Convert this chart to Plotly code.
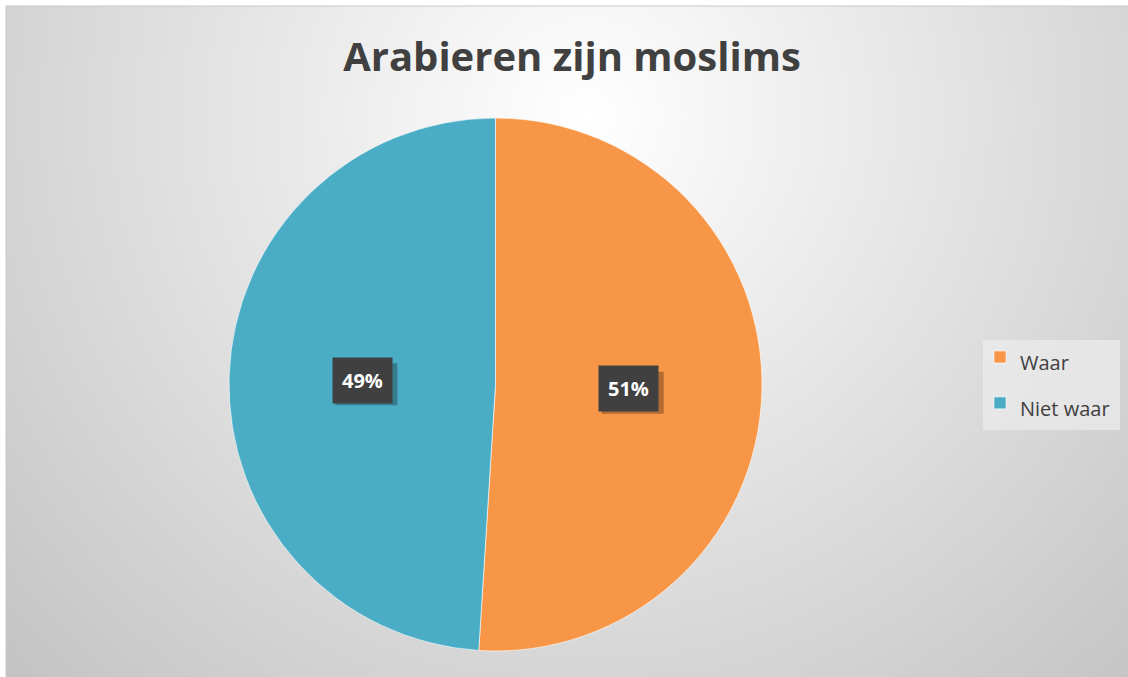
import math
import urllib.parse
import plotly.graph_objects as go

W, H = 1128, 677

title_text = "Arabieren zijn moslims"
labels = ["Waar", "Niet waar"]
values = [51, 49]
colors = ["#F79646", "#4BACC6"]

# pie domain in paper coords
dom_x = [229 / W, 762 / W]
dom_y = [(H - 651) / H, (H - 118) / H]

svg = (
    "<svg xmlns='http://www.w3.org/2000/svg' width='1122' height='671' viewBox='0 0 1122 671' preserveAspectRatio='none'>"
    "<defs><radialGradient id='g' cx='580' cy='110' r='900' gradientUnits='userSpaceOnUse'>"
    "<stop offset='0' stop-color='#ffffff'/><stop offset='1' stop-color='#bcbcbc'/>"
    "</radialGradient></defs>"
    "<rect width='1122' height='671' fill='url(#g)'/></svg>"
)
svg_uri = "data:image/svg+xml;charset=utf-8," + urllib.parse.quote(svg)

fig = go.Figure()
fig.add_trace(go.Pie(
    labels=["<span style='font-size:20px'>%s</span>" % l for l in labels],
    values=values,
    marker=dict(colors=colors, line=dict(color="rgba(255,255,255,0.6)", width=1)),
    sort=False,
    direction="clockwise",
    rotation=0,
    textinfo="none",
    hoverinfo="skip",
    domain=dict(x=dom_x, y=dom_y),
))

# label annotations at half radius along slice mid-angle
total = sum(values)
cx = (dom_x[0] + dom_x[1]) / 2 * W
cy = (1 - (dom_y[0] + dom_y[1]) / 2) * H
r = (dom_x[1] - dom_x[0]) * W / 2
cum = 0
annotations = []
shadow_shapes = []
bw, bh = 31, 21  # half box size in px (label box decoration)
for v in values:
    mid = (cum + v / 2) / total * 2 * math.pi
    cum += v
    px = cx + 0.5 * r * math.sin(mid)
    py = cy - 0.5 * r * math.cos(mid)
    txt = "<b>%d%%</b>" % round(v / total * 100)
    shadow_shapes.append(dict(
        type="rect", xref="paper", yref="paper",
        x0=(px - bw + 4) / W, x1=(px + bw + 4) / W,
        y0=1 - (py + bh + 4) / H, y1=1 - (py - bh + 4) / H,
        fillcolor="rgba(0,0,0,0.28)", line=dict(width=0), layer="above",
    ))
    annotations.append(dict(
        x=px / W, y=1 - py / H, xref="paper", yref="paper",
        xanchor="center", yanchor="middle",
        text=txt, showarrow=False, font=dict(family="Open Sans", size=20, color="white"),
        bgcolor="#404040", borderpad=9,
    ))

fig.update_layout(
    width=W, height=H,
    margin=dict(l=0, r=0, t=0, b=0),
    paper_bgcolor="white",
    plot_bgcolor="rgba(0,0,0,0)",
    title=dict(text="<b>" + title_text + "</b>", x=572 / W, xanchor="center",
               y=1 - 57 / H, yanchor="middle",
               font=dict(family="Open Sans", size=40, color="#404040")),
    legend=dict(x=980 / W, y=1 - 329 / H, xanchor="left", yanchor="top",
                bgcolor="rgba(0,0,0,0)", borderwidth=0,
                font=dict(family="Open Sans", size=33, color="#404040"),
                itemclick=False, itemdoubleclick=False),
    images=[dict(source=svg_uri, xref="paper", yref="paper", x=6 / W, y=1 - 6 / H,
                 sizex=1122 / W, sizey=671 / H, xanchor="left", yanchor="top",
                 sizing="stretch", layer="below")],
    shapes=[
        dict(type="line", xref="paper", yref="paper", x0=6 / W, x1=1, y0=1 - 6 / H, y1=1 - 6 / H,
             line=dict(color="#c8c8c8", width=1)),
        dict(type="line", xref="paper", yref="paper", x0=6 / W, x1=6 / W, y0=0, y1=1 - 6 / H,
             line=dict(color="#c8c8c8", width=1)),
        dict(type="rect", xref="paper", yref="paper", x0=983 / W, x1=1120 / W,
             y0=1 - 430 / H, y1=1 - 340 / H, fillcolor="rgba(236,236,236,0.7)",
             line=dict(width=0), layer="below"),
    ] + shadow_shapes,
    annotations=annotations,
)

fig.write_html("out.html", config={"displayModeBar": False},
               post_script="document.body.style.margin='0px';")
